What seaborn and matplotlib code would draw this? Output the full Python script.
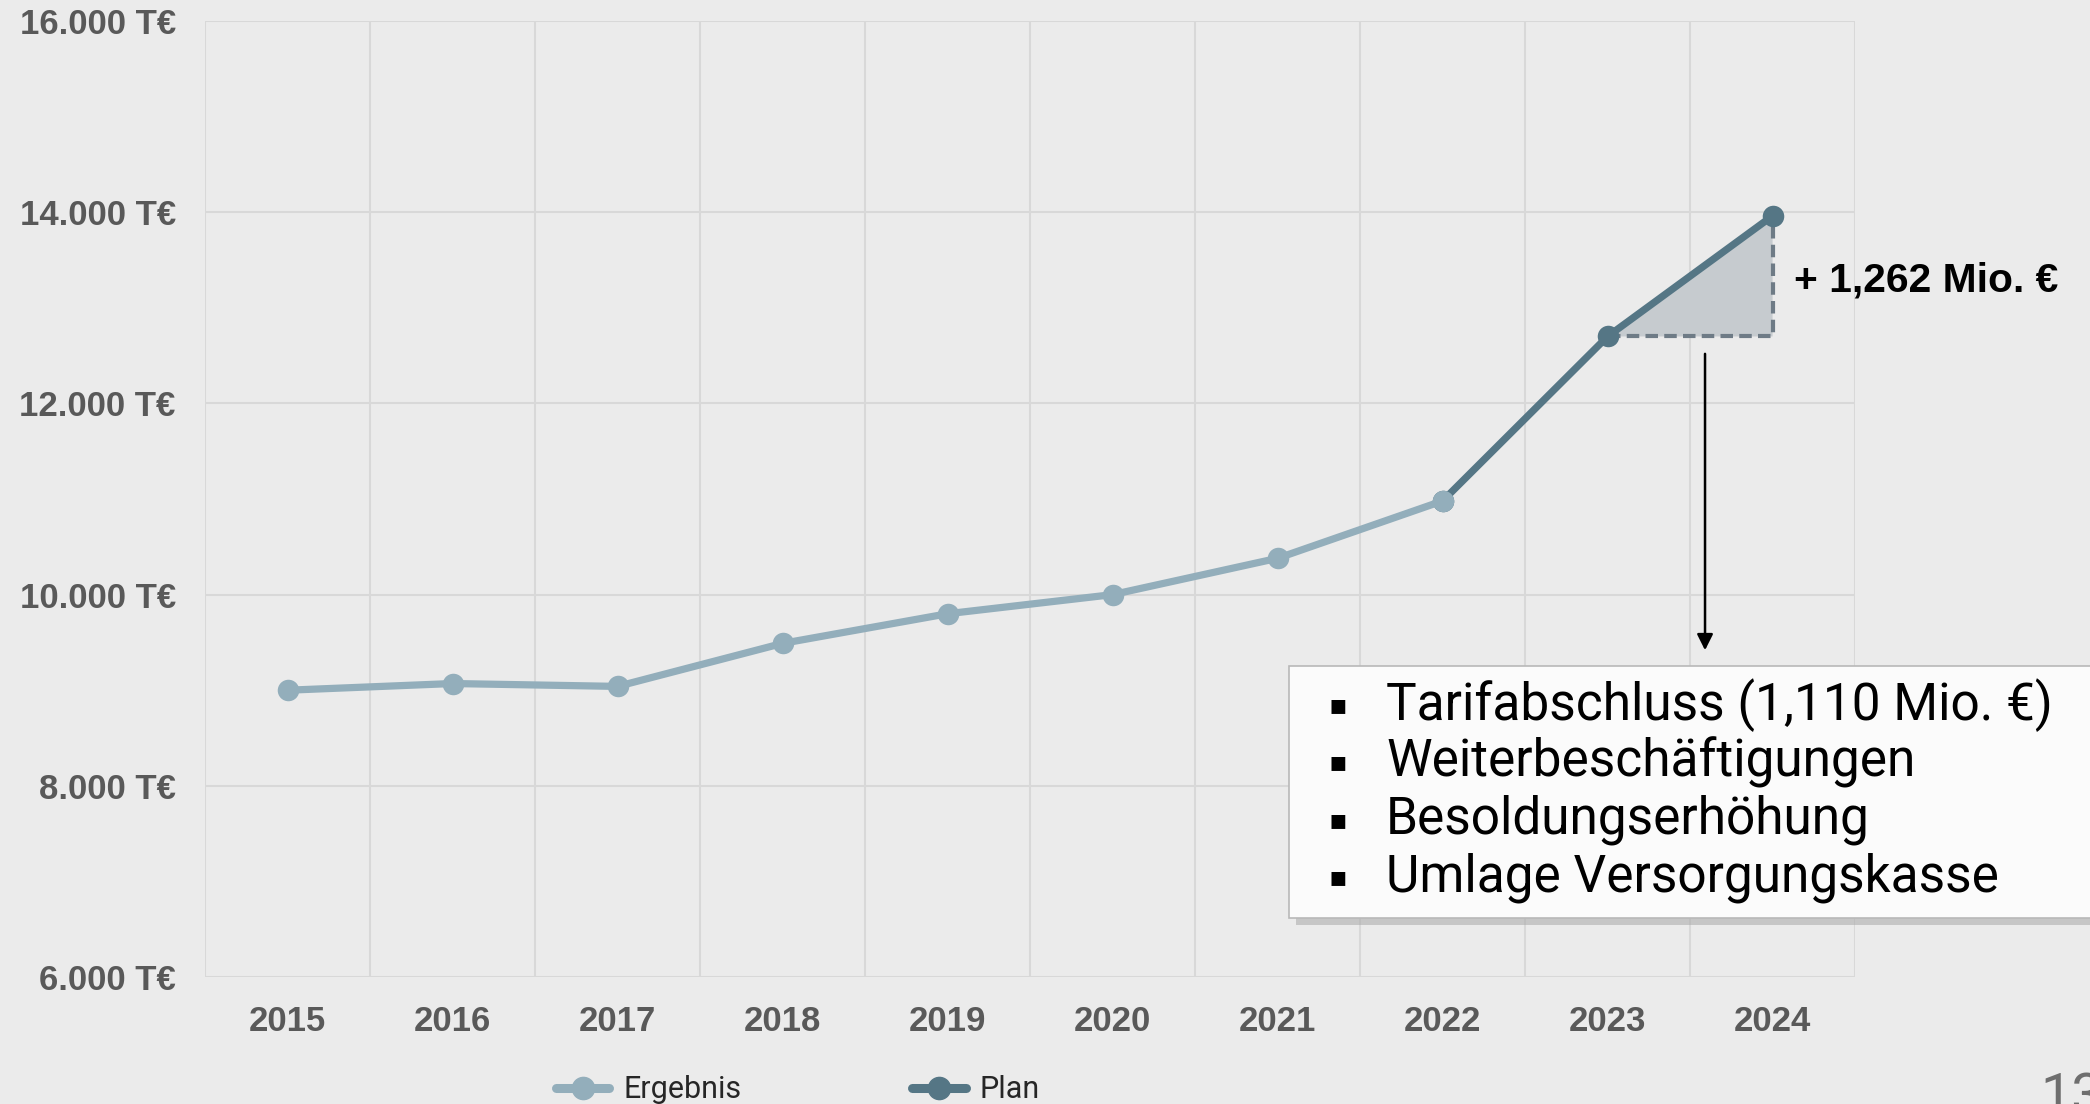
import pandas as pd
import matplotlib
matplotlib.use("Agg")
import matplotlib.pyplot as plt
import matplotlib.patches as mpatches
from matplotlib.lines import Line2D
import seaborn as sns

# data (values in T€)
years = ["2015", "2016", "2017", "2018", "2019", "2020", "2021", "2022", "2023", "2024"]
ergebnis = [9000, 9070, 9040, 9490, 9800, 10000, 10380, 10980]
plan = [10980, 12700, 13962]          # 2022 .. 2024
y_ticks = [6000, 8000, 10000, 12000, 14000, 16000]
y_labels = ["6.000 T€", "8.000 T€", "10.000 T€", "12.000 T€", "14.000 T€", "16.000 T€"]
delta_label = "+ 1,262 Mio. €"
bullets = ["Tarifabschluss (1,110 Mio. €)", "Weiterbeschäftigungen",
           "Besoldungserhöhung", "Umlage Versorgungskasse"]
page_no = "13"

BG = "#ebebeb"
GRID = "#d8d8d8"
C_ERG = "#93aebb"
C_PLAN = "#557685"
TICK_C = "#595959"

sns.set_theme(style="whitegrid")
plt.rcParams["font.family"] = ["Liberation Sans", "DejaVu Sans"]

df = pd.concat([
    pd.DataFrame({"x": range(len(ergebnis)), "value": ergebnis, "serie": "Ergebnis"}),
    pd.DataFrame({"x": range(len(ergebnis) - 1, len(ergebnis) - 1 + len(plan)),
                  "value": plan, "serie": "Plan"}),
])

fig = plt.figure(figsize=(20.9, 11.04), dpi=100, facecolor=BG)
ax = fig.add_axes([0.0981, 0.1150, 0.7895, 0.866])
ax.set_facecolor(BG)

# plan first, so the 2022 point keeps the light colour
sns.lineplot(data=df[df.serie == "Plan"], x="x", y="value", color=C_PLAN, lw=5.2,
             marker="o", markersize=15.5, markeredgewidth=0, ax=ax, zorder=3)
sns.lineplot(data=df[df.serie == "Ergebnis"], x="x", y="value", color=C_ERG, lw=5.2,
             marker="o", markersize=15.5, markeredgewidth=0, ax=ax, zorder=4)

# shaded increase triangle 2023 -> 2024
x0, x1 = len(ergebnis), len(ergebnis) + 1
ax.fill([x0, x1, x1], [plan[1], plan[2], plan[1]], color="#c6cbcf", zorder=2, lw=0)
ax.plot([x0, x1, x1], [plan[1], plan[1], plan[2]], color="#6e7b86", lw=3,
        ls=(0, (3, 1.5)), zorder=2.5)
ax.text(x1 + 0.13, 13290, delta_label, fontsize=29.3, fontweight="bold",
        color="black", va="center", ha="left", clip_on=False)

ax.set_xlim(-0.5, len(years) - 0.5)
ax.set_ylim(6000, 16000)
ax.set_xticks(range(len(years)))
ax.set_xticklabels(years)
ax.set_xticks([i + 0.5 for i in range(-1, len(years))], minor=True)
ax.set_yticks(y_ticks)
ax.set_yticklabels(y_labels)
ax.set_xlabel("")
ax.set_ylabel("")

ax.grid(False)
ax.grid(True, which="minor", axis="x", color=GRID, lw=1.5)
ax.grid(True, which="major", axis="y", color=GRID, lw=1.5)
for s in ax.spines.values():
    s.set_visible(False)
ax.tick_params(axis="both", which="both", length=0)
ax.tick_params(axis="x", pad=20, labelsize=25, labelcolor=TICK_C)
ax.tick_params(axis="y", pad=21, labelsize=25, labelcolor=TICK_C)
for lab in ax.get_xticklabels() + ax.get_yticklabels():
    lab.set_fontweight("bold")

# arrow down to the explanation box
fig.add_artist(mpatches.FancyArrowPatch((0.8158, 0.682), (0.8158, 0.4085),
                                        transform=fig.transFigure, arrowstyle="-|>",
                                        mutation_scale=24, color="black", lw=1.8))

# explanation box with drop shadow
bx, by, bw, bh = 1289 / 2090, 1 - 918 / 1104, 0.40, 252 / 1104
fig.add_artist(mpatches.Rectangle((bx + 0.0035, by - 0.006), bw, bh, transform=fig.transFigure,
                                  facecolor="#a9a9a9", edgecolor="none", alpha=0.55))
fig.add_artist(mpatches.Rectangle((bx, by), bw, bh, transform=fig.transFigure,
                                  facecolor="#fbfbfb", edgecolor="#b8b8b8", lw=1.2))
for i, t in enumerate(bullets):
    yy = 1 - (705 + i * 57.5) / 1104
    fig.text(1338 / 2090, yy, "▪", fontsize=20, va="center", ha="center",
             family=["DejaVu Sans"], color="black")
    fig.text(1386 / 2090, yy, t, fontsize=37, va="center", ha="left",
             family=["Roboto", "DejaVu Sans"], color="black")

# legend at the bottom
handles = [Line2D([], [], color=C_ERG, lw=6.5, marker="o", markersize=16),
           Line2D([], [], color=C_PLAN, lw=6.5, marker="o", markersize=16)]
fig.legend(handles, ["Ergebnis", "Plan"], loc="center left",
           bbox_to_anchor=(556 / 2090, 14 / 1104), ncol=2, frameon=False,
           handlelength=1.75, handletextpad=0.45, columnspacing=5.6, borderpad=0,
           borderaxespad=0, prop={"family": ["Roboto", "DejaVu Sans"], "size": 22})

fig.text(2040 / 2090, 1 - 1072 / 1104, page_no, fontsize=40, color="#6e6e6e",
         family=["Roboto", "DejaVu Sans"], va="top", ha="left")

fig.savefig("out.png", dpi=100, facecolor=BG)
